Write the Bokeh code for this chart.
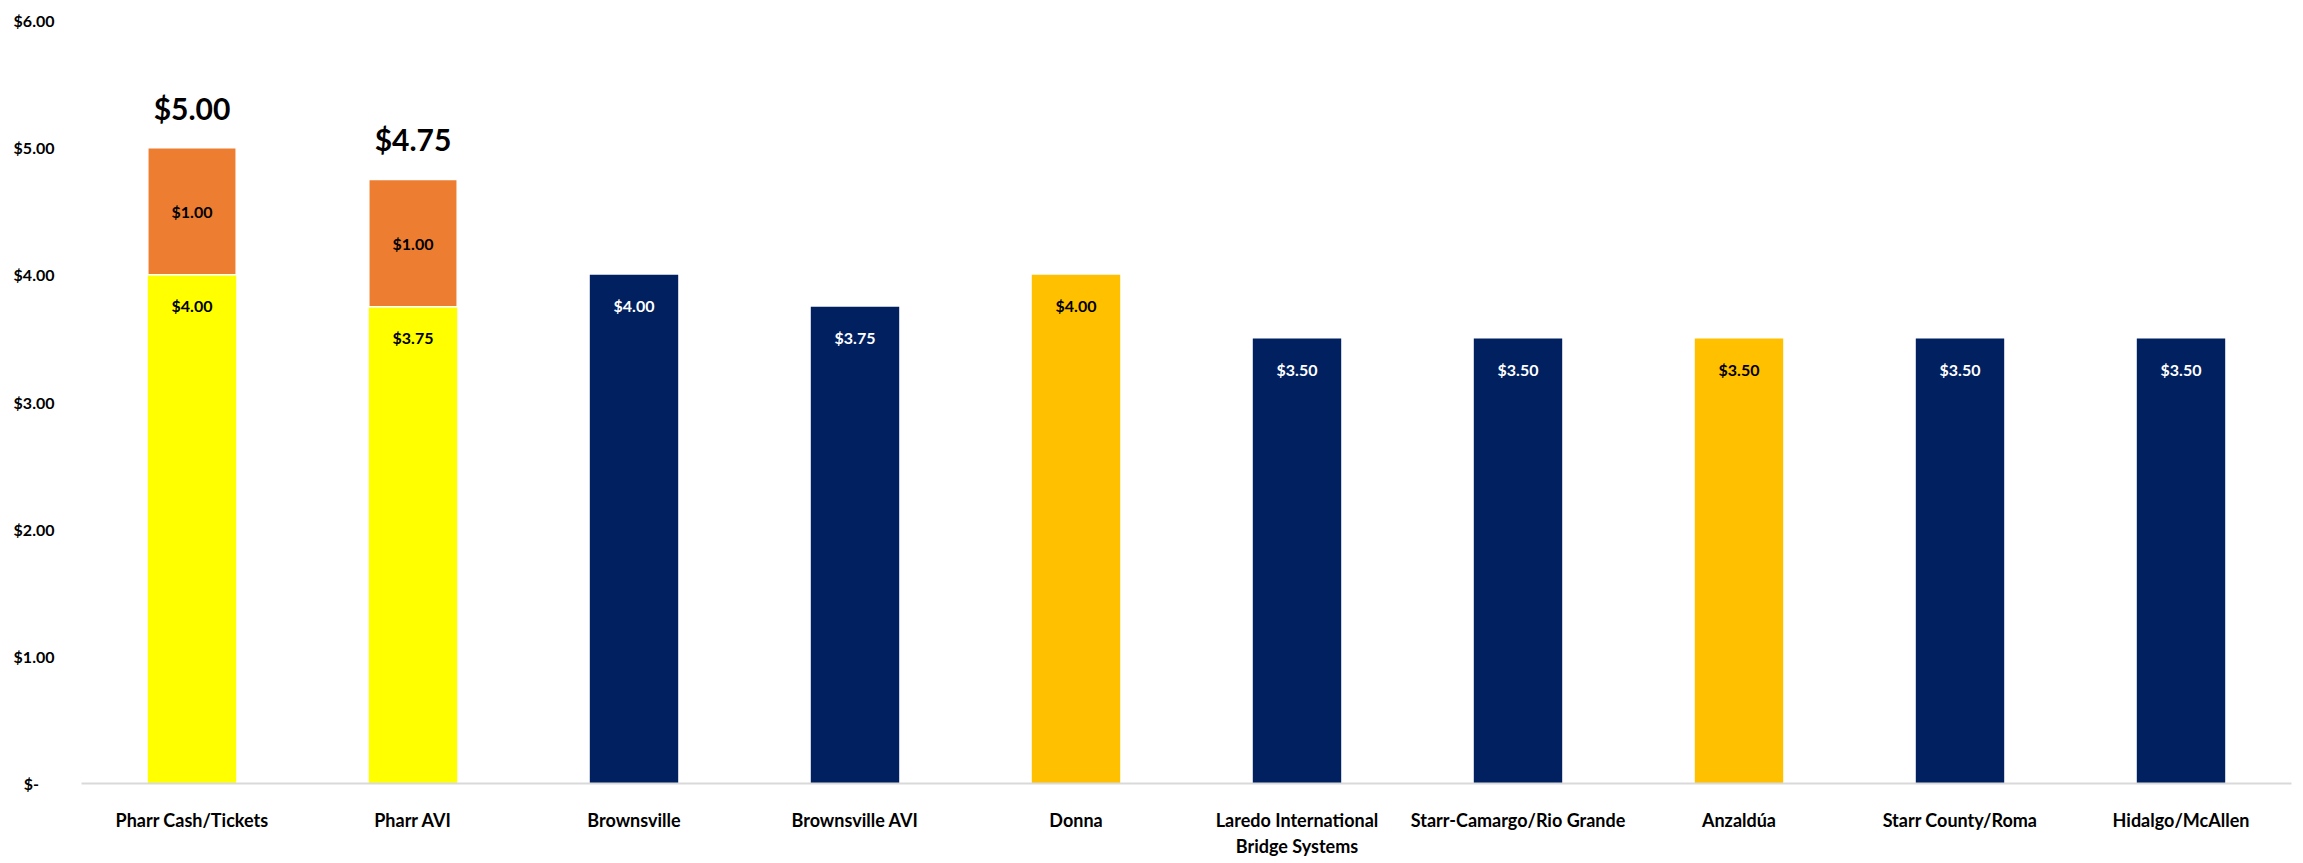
from bokeh.plotting import figure
from bokeh.models import ColumnDataSource, CustomJSTickFormatter, FixedTicker
from bokeh.core.properties import value
from bokeh.embed import file_html
from bokeh.resources import INLINE

categories = ["Pharr Cash/Tickets", "Pharr AVI", "Brownsville", "Brownsville AVI", "Donna",
              "Laredo International\nBridge Systems", "Starr-Camargo/Rio Grande", "Anzaldúa",
              "Starr County/Roma", "Hidalgo/McAllen"]
base_toll = [4.00, 3.75, 4.00, 3.75, 4.00, 3.50, 3.50, 3.50, 3.50, 3.50]
surcharge = [1.00, 1.00, 0, 0, 0, 0, 0, 0, 0, 0]
base_colors = ["#FFFF00", "#FFFF00", "#002060", "#002060", "#FFC000",
               "#002060", "#002060", "#FFC000", "#002060", "#002060"]
label_colors = ["#000000", "#000000", "#FFFFFF", "#FFFFFF", "#000000",
                "#FFFFFF", "#FFFFFF", "#000000", "#FFFFFF", "#FFFFFF"]
y_ticks = [0, 1, 2, 3, 4, 5, 6]

FONT = "Lato"

tops = [b + s for b, s in zip(base_toll, surcharge)]
src = ColumnDataSource(dict(
    cat=categories, base=base_toll, sur=surcharge, top=tops,
    color=base_colors, lcolor=label_colors,
    blabel=["$%.2f" % v for v in base_toll],
))
sc = [i for i, s in enumerate(surcharge) if s > 0]
src2 = ColumnDataSource(dict(
    cat=[categories[i] for i in sc],
    base=[base_toll[i] for i in sc],
    top=[tops[i] for i in sc],
    mid=[base_toll[i] + surcharge[i] / 2 for i in sc],
    slabel=["$%.2f" % surcharge[i] for i in sc],
    tlabel=["$%.2f" % tops[i] for i in sc],
))

p = figure(x_range=categories, y_range=(0, 6), width=2303, height=863,
           output_backend="svg", toolbar_location=None,
           min_border_left=81, min_border_right=12, min_border_top=20, min_border_bottom=80)
p.outline_line_color = None
p.xgrid.grid_line_color = None
p.ygrid.grid_line_color = None
p.x_range.range_padding = 0

p.vbar(x="cat", top="base", bottom=0, width=0.4, source=src, fill_color="color",
       line_color=None)
p.vbar(x="cat", top="top", bottom="base", width=0.4, source=src2, fill_color="#ED7D31",
       line_color="white", line_width=1.5)

p.text(x="cat", y="base", text="blabel", source=src, text_color="lcolor",
       text_font=value(FONT), text_font_style="bold", text_font_size="16px",
       text_align="center", text_baseline="middle", y_offset=31)
p.text(x="cat", y="mid", text="slabel", source=src2, text_color="#000000",
       text_font=value(FONT), text_font_style="bold", text_font_size="16px",
       text_align="center", text_baseline="middle")
p.text(x="cat", y="top", text="tlabel", source=src2, text_color="#000000",
       text_font=value(FONT), text_font_style="bold", text_font_size="30px",
       text_align="center", text_baseline="middle", y_offset=-40)

p.yaxis.ticker = FixedTicker(ticks=y_ticks)
p.yaxis.formatter = CustomJSTickFormatter(
    code="return tick == 0 ? '$-\u00a0\u00a0\u00a0\u00a0' : '$' + tick.toFixed(2);")
p.yaxis.axis_line_color = None
p.yaxis.major_tick_line_color = None
p.yaxis.minor_tick_line_color = None
p.yaxis.major_label_standoff = 21
p.yaxis.major_label_text_font = FONT
p.yaxis.major_label_text_font_style = "bold"
p.yaxis.major_label_text_font_size = "16px"
p.yaxis.major_label_text_color = "#000000"

p.xaxis.axis_line_color = "#D9D9D9"
p.xaxis.axis_line_width = 2
p.xaxis.major_tick_line_color = None
p.xaxis.minor_tick_line_color = None
p.xaxis.major_label_standoff = 19
p.xaxis.major_label_text_font = FONT
p.xaxis.major_label_text_font_style = "bold"
p.xaxis.major_label_text_font_size = "18px"
p.xaxis.major_label_text_color = "#000000"

open("out.html", "w").write(file_html(p, INLINE))
